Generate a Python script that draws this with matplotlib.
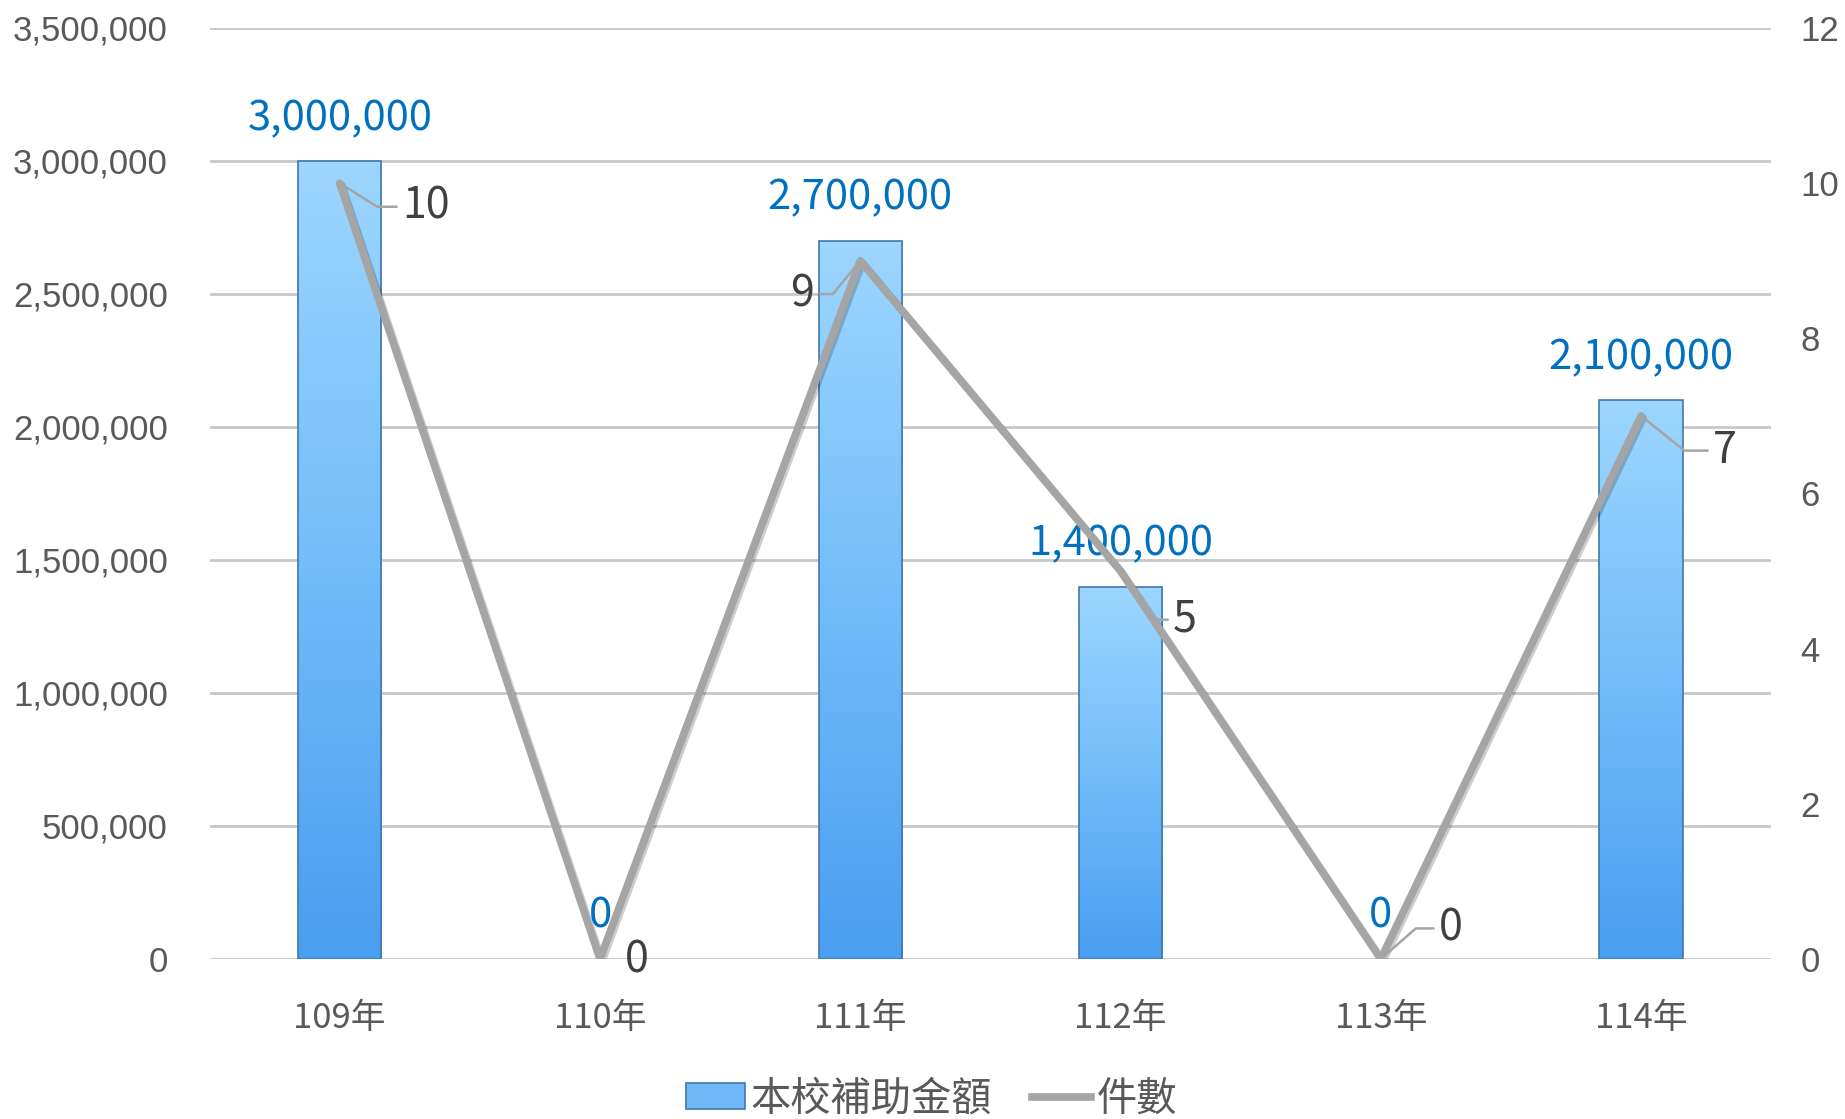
import matplotlib
matplotlib.use('Agg')
import matplotlib.pyplot as plt
import numpy as np
from matplotlib.colors import LinearSegmentedColormap
from matplotlib.ticker import FuncFormatter
from matplotlib.patches import Patch
from matplotlib.lines import Line2D
import matplotlib.patheffects as pe

categories = ['109年', '110年', '111年', '112年', '113年', '114年']
amounts = [3000000, 0, 2700000, 1400000, 0, 2100000]
counts = [10, 0, 9, 5, 0, 7]
left_ticks = [0, 500000, 1000000, 1500000, 2000000, 2500000, 3000000, 3500000]
right_ticks = [0, 2, 4, 6, 8, 10, 12]
series_names = ['本校補助金額', '件數']

CJK = ['Noto Sans CJK TC', 'DejaVu Sans']
LAT = ['Liberation Sans', 'DejaVu Sans']

fig = plt.figure(figsize=(18.45, 11.19), dpi=100)
ax = fig.add_axes([0.1136, 0.143, 0.8464, 0.832])
x = np.arange(len(categories))

bars = ax.bar(x, amounts, width=0.32, facecolor='none', edgecolor='#3f78b0',
              linewidth=1.2, zorder=3)
grad = np.linspace(0, 1, 256).reshape(-1, 1)
cmap = LinearSegmentedColormap.from_list('g', ['#4a9ef0', '#72bdfa', '#9dd6fe'])
for b in bars:
    if b.get_height() <= 0:
        b.set_visible(False)
        continue
    x0, y0 = b.get_x(), b.get_y()
    im = ax.imshow(grad, extent=[x0, x0 + b.get_width(), y0, y0 + b.get_height()],
                   origin='lower', cmap=cmap, aspect='auto', zorder=2.5)
    im.set_clip_path(b)

ax.set_xlim(-0.5, len(categories) - 0.5)
ax.set_ylim(0, 3500000)
ax.set_yticks(left_ticks)
ax.yaxis.set_major_formatter(FuncFormatter(lambda v, p: f'{int(v):,}'))
ax.grid(axis='y', color='#c8c8c8', linewidth=2, zorder=0)
ax.set_axisbelow(True)
ax.set_xticks(x)
ax.set_xticklabels(categories, fontsize=25, color='#595959', family=CJK)
ax.tick_params(axis='x', length=0, pad=30)
ax.tick_params(axis='y', length=0, pad=30, labelsize=25, labelcolor='#595959')
for t in ax.get_yticklabels():
    t.set_family(LAT)
for s in ax.spines.values():
    s.set_visible(False)

for xi, v in zip(x, amounts):
    ax.annotate(f'{v:,}', xy=(xi, v), xytext=(0, 16), textcoords='offset points',
                ha='center', va='bottom', fontsize=30, color='#0070c0',
                family=CJK, zorder=5)

ax2 = ax.twinx()
ax2.plot(x, counts, color='#a5a5a5', linewidth=5.5, solid_joinstyle='round',
         solid_capstyle='round', zorder=4,
         path_effects=[pe.SimpleLineShadow(offset=(1.5, -1.5), alpha=0.2), pe.Normal()])
ax2.set_ylim(0, 12)
ax2.set_yticks(right_ticks)
ax2.tick_params(axis='y', length=0, pad=21, labelsize=25, labelcolor='#595959')
for t in ax2.get_yticklabels():
    t.set_family(LAT)
for s in ax2.spines.values():
    s.set_visible(False)

offsets = [(45, -17, 'left'), (18, -1, 'left'), (-33, -24, 'right'),
           (38, -35, 'left'), (42, 22, 'left'), (52, -25, 'left')]
for xi, v, (dx, dy, ha) in zip(x, counts, offsets):
    show_leader = abs(dx) > 25
    ang = np.degrees(np.arctan2(dy, 0.6 * dx))
    ax2.annotate(str(v), xy=(xi, v), xytext=(dx, dy), textcoords='offset points',
                 ha=ha, va='center', fontsize=31, color='#404040', family=CJK,
                 zorder=6,
                 arrowprops=dict(arrowstyle='-', color='#a5a5a5', lw=1.8,
                                 shrinkA=2, shrinkB=3,
                                 connectionstyle=f'angle,angleA=0,angleB={ang:.1f},rad=0')
                 if show_leader else None)

handles = [Patch(facecolor='#6fb9f8', edgecolor='#3f78b0', linewidth=1.2),
           Line2D([0], [0], color='#a5a5a5', linewidth=5.5)]
leg = fig.legend(handles, series_names, loc='center', bbox_to_anchor=(0.505, 0.018),
                 ncol=2, frameon=False, prop={'family': CJK, 'size': 29},
                 handlelength=1.45, handleheight=0.6, handletextpad=0.15,
                 columnspacing=1.0)
for t in leg.get_texts():
    t.set_color('#595959')

fig.savefig('out.png', dpi=100)
